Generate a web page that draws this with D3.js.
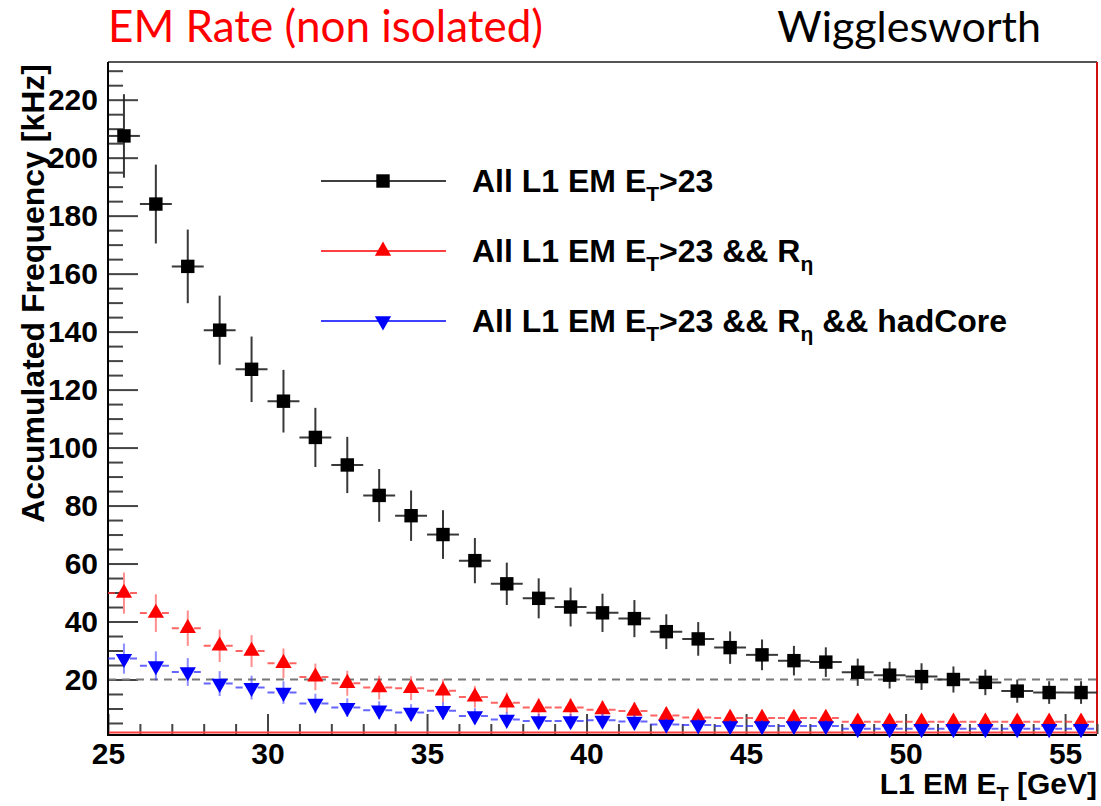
<!DOCTYPE html>
<html>
<head>
<meta charset="utf-8">
<script src="https://cdn.jsdelivr.net/npm/d3@7"></script>
<style>
  body { margin: 0; background: #fff; }
  svg { display: block; }
  .axis text { font-family: "Liberation Sans", Arial, sans-serif; font-weight: bold; font-size: 30px; fill: #000; }
  .bold { font-family: "Liberation Sans", Arial, sans-serif; font-weight: bold; }
  .head { font-family: Lato, "Open Sans", sans-serif; }
</style>
</head>
<body>
<svg id="chart" width="1101" height="806"></svg>
<script>
/* values */
const etBins = [25.5, 26.5, 27.5, 28.5, 29.5, 30.5, 31.5, 32.5, 33.5, 34.5, 35.5, 36.5, 37.5, 38.5, 39.5, 40.5,
  41.5, 42.5, 43.5, 44.5, 45.5, 46.5, 47.5, 48.5, 49.5, 50.5, 51.5, 52.5, 53.5, 54.5, 55.5];

const allEm = [207.5, 184, 162.5, 140.5, 127, 116, 103.5, 94, 83.5, 76.5, 70, 61, 53, 48, 45, 43,
  41, 36.5, 34, 31, 28.5, 26.5, 26, 22.5, 21.5, 21, 20, 19, 16, 15.5, 15.5];
const allEmErr = [14.4, 13.6, 12.7, 11.9, 11.3, 10.8, 10.2, 9.7, 9.1, 8.7, 8.4, 7.8, 7.3, 6.9, 6.7, 6.6,
  6.4, 6.0, 5.8, 5.6, 5.3, 5.1, 5.1, 4.7, 4.6, 4.6, 4.5, 4.4, 4.0, 3.9, 3.9];

const allEmReta = [49.8, 42.9, 37.7, 31.6, 29.8, 25.6, 20.9, 18.7, 17.2, 17.0, 16.1, 14.0, 12.0, 10.3, 10.3, 9.6,
  9.1, 7.6, 6.9, 6.7, 6.7, 6.7, 6.7, 5.4, 5.4, 5.4, 5.4, 5.4, 5.4, 5.4, 5.4];
const allEmRetaErr = [7.1, 6.5, 6.1, 5.6, 5.5, 5.1, 4.6, 4.3, 4.1, 4.1, 4.0, 3.7, 3.5, 3.2, 3.2, 3.1,
  3.0, 2.8, 2.6, 2.6, 2.6, 2.6, 2.6, 2.3, 2.3, 2.3, 2.3, 2.3, 2.3, 2.3, 2.3];

const allEmRetaHad = [27.2, 24.7, 22.6, 18.6, 17.2, 15.5, 11.7, 10.3, 9.4, 8.6, 9.2, 7.4, 6.2, 5.7, 5.7, 5.9,
  5.5, 4.5, 4.3, 4.0, 4.0, 4.0, 4.0, 3.0, 3.0, 3.0, 3.0, 3.0, 3.0, 3.0, 3.0];
const allEmRetaHadErr = [5.2, 5.0, 4.8, 4.3, 4.1, 3.9, 3.4, 3.2, 3.1, 2.9, 3.0, 2.7, 2.5, 2.4, 2.4, 2.4,
  2.3, 2.1, 2.1, 2.0, 2.0, 2.0, 2.0, 1.7, 1.7, 1.7, 1.7, 1.7, 1.7, 1.7, 1.7];

const xMajorTicks = [25, 30, 35, 40, 45, 50, 55];
const xMinorTicks = [26, 27, 28, 29, 31, 32, 33, 34, 36, 37, 38, 39, 41, 42, 43, 44, 46, 47, 48, 49, 51, 52, 53, 54, 56];
const yMajorTicks = [20, 40, 60, 80, 100, 120, 140, 160, 180, 200, 220];
const yMinorTicks = [5, 10, 15, 25, 30, 35, 45, 50, 55, 65, 70, 75, 85, 90, 95, 105, 110, 115, 125, 130, 135,
  145, 150, 155, 165, 170, 175, 185, 190, 195, 205, 210, 215, 225, 230];
const referenceRate = 20;

const legendLabels = [
  'All L1 EM E_{T}>23',
  'All L1 EM E_{T}>23 && R_{η}',
  'All L1 EM E_{T}>23 && R_{η} && hadCore',
];

const series = [
  { values: allEm, errors: allEmErr, color: '#000', bar: '#222', dashed: false, marker: 'square' },
  { values: allEmReta, errors: allEmRetaErr, color: '#ff0000', bar: '#ff3030', dashed: true, marker: 'up' },
  { values: allEmRetaHad, errors: allEmRetaHadErr, color: '#0000ff', bar: '#3030ff', dashed: true, marker: 'down' },
];

// writes "E_{T}" style labels as tspans with a lowered subscript
const writeLabel = (t, label, subSize, shift) => {
  let back = 0;
  label.split(/(_\{[^}]*\})/).forEach((part) => {
    if (!part) return;
    if (part.startsWith('_{')) {
      t.append('tspan').attr('font-size', subSize).attr('dy', shift).text(part.slice(2, -1));
      back = -shift;
    } else {
      t.append('tspan').attr('dy', back || null).text(part);
      back = 0;
    }
  });
};

const main = () => {
  const svg = d3.select('#chart');
  const left = 108;
  const right = 1097;
  const top = 62;
  const bottom = 734;

  const x = d3.scaleLinear().domain([25, 56]).range([left, right]);
  const y = d3.scaleLinear().domain([1.2, 233]).range([bottom, top]);

  // headline texts
  svg.append('text').attr('class', 'head').attr('font-size', 44).attr('x', 108).attr('y', 42)
    .attr('fill', '#ff0000').text('EM Rate (non isolated)');
  svg.append('text').attr('class', 'head').attr('font-size', 43).attr('x', 1041).attr('y', 42)
    .attr('text-anchor', 'end').attr('fill', '#000').text('Wigglesworth');

  // frame: top grey, right red
  svg.append('line').attr('x1', left).attr('x2', right).attr('y1', top).attr('y2', top)
    .attr('stroke', '#555').attr('stroke-width', 2);
  svg.append('line').attr('x1', right).attr('x2', right).attr('y1', top).attr('y2', bottom)
    .attr('stroke', '#d01010').attr('stroke-width', 2);

  // ticks inside the frame (ROOT style), minor and major in their own groups
  svg.append('g').attr('class', 'axis minor').attr('transform', `translate(0,${bottom})`)
    .call(d3.axisBottom(x).tickValues(xMinorTicks).tickSize(-10).tickFormat(''));
  const axX = svg.append('g').attr('class', 'axis').attr('transform', `translate(0,${bottom})`)
    .call(d3.axisBottom(x).tickValues(xMajorTicks).tickSize(-20).tickFormat(d3.format('d')));
  svg.append('g').attr('class', 'axis minor').attr('transform', `translate(${left},0)`)
    .call(d3.axisLeft(y).tickValues(yMinorTicks).tickSize(-15).tickFormat(''));
  const axY = svg.append('g').attr('class', 'axis').attr('transform', `translate(${left},0)`)
    .call(d3.axisLeft(y).tickValues(yMajorTicks).tickSize(-30).tickFormat(d3.format('d')));
  svg.selectAll('.axis .domain').remove();
  svg.selectAll('.axis .tick line').attr('stroke', '#444').attr('stroke-width', 2);
  axX.selectAll('.tick text').attr('dy', '0.71em').attr('y', 9);
  axY.selectAll('.tick text').attr('x', -10);

  // reference dashed line at 20 kHz
  svg.append('line').attr('x1', x(25)).attr('x2', x(56))
    .attr('y1', y(referenceRate)).attr('y2', y(referenceRate))
    .attr('stroke', '#777').attr('stroke-width', 2).attr('stroke-dasharray', '8,6');

  // axes lines
  svg.append('line').attr('x1', left).attr('x2', right).attr('y1', bottom - 1.5).attr('y2', bottom - 1.5)
    .attr('stroke', '#ff4040').attr('stroke-width', 2);
  svg.append('line').attr('x1', left).attr('x2', right).attr('y1', bottom + 1).attr('y2', bottom + 1)
    .attr('stroke', '#000').attr('stroke-width', 2);
  svg.append('line').attr('x1', left).attr('x2', left).attr('y1', top).attr('y2', bottom + 2)
    .attr('stroke', '#000').attr('stroke-width', 2);

  const markerPath = (type) => {
    if (type === 'square') return d3.symbol(d3.symbolSquare, 180)();
    return d3.symbol(d3.symbolTriangle, 115)();
  };

  // data series
  series.forEach((s) => {
    const g = svg.append('g');
    const pts = etBins.map((c, i) => ({ c, v: s.values[i], e: s.errors[i] }));
    g.selectAll('line.h').data(pts).enter().append('line')
      .attr('x1', (d) => x(d.c - 0.5)).attr('x2', (d) => x(d.c + 0.5))
      .attr('y1', (d) => y(d.v)).attr('y2', (d) => y(d.v))
      .attr('stroke', s.bar).attr('stroke-width', 2)
      .attr('stroke-opacity', s.dashed ? 0.75 : 0.9)
      .attr('stroke-dasharray', s.dashed ? '7,4' : null);
    g.selectAll('line.v').data(pts).enter().append('line')
      .attr('x1', (d) => x(d.c)).attr('x2', (d) => x(d.c))
      .attr('y1', (d) => y(Math.max(d.v - d.e, 1.2))).attr('y2', (d) => y(d.v + d.e))
      .attr('stroke', s.bar).attr('stroke-width', 2)
      .attr('stroke-opacity', s.dashed ? 0.55 : 0.9);
    g.selectAll('path').data(pts).enter().append('path')
      .attr('d', markerPath(s.marker))
      .attr('fill', s.color)
      .attr('transform', (d) => `translate(${x(d.c)},${y(d.v)})${s.marker === 'down' ? ' rotate(180)' : ''}`);
  });

  // legend
  const legend = svg.append('g');
  legendLabels.forEach((label, i) => {
    const s = series[i];
    const ly = 181 + i * 70;
    legend.append('line').attr('x1', 321).attr('x2', 446).attr('y1', ly).attr('y2', ly)
      .attr('stroke', s.color).attr('stroke-width', 1.5);
    legend.append('path').attr('d', markerPath(s.marker)).attr('fill', s.color)
      .attr('transform', `translate(383,${ly})${s.marker === 'down' ? ' rotate(180)' : ''}`);
    const t = legend.append('text').attr('class', 'bold').attr('x', 472).attr('y', ly + 11)
      .attr('font-size', 32);
    writeLabel(t, label, 21, 9);
  });

  // axis titles
  svg.append('text').attr('class', 'bold').attr('font-size', 32)
    .attr('transform', 'translate(44,64) rotate(-90)')
    .attr('text-anchor', 'end').text('Accumulated Frequency [kHz]');

  const xt = svg.append('text').attr('class', 'bold').attr('font-size', 30)
    .attr('x', 1097).attr('y', 794).attr('text-anchor', 'end');
  writeLabel(xt, 'L1 EM E_{T} [GeV]', 20, 7);
};

main();
</script>
</body>
</html>
